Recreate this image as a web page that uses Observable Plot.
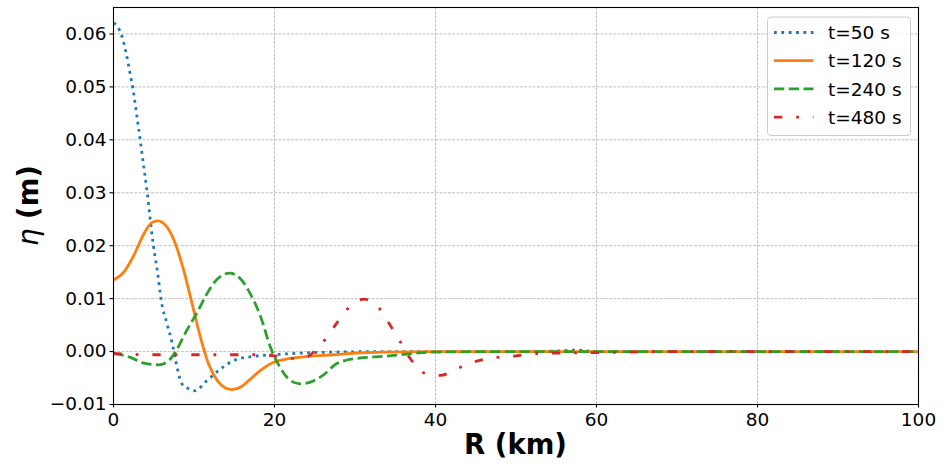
<!DOCTYPE html>
<html>
<head>
<meta charset="utf-8">
<script src="https://cdn.jsdelivr.net/npm/d3@7"></script>
<script src="https://cdn.jsdelivr.net/npm/@observablehq/plot@0.6"></script>
<style>
  html, body { margin: 0; padding: 0; background: white; }
  #chart { position: relative; width: 948px; height: 464px; }
</style>
</head>
<body>
<div id="chart"></div>
<script>
// ---- data ----
const seriesNames = ["t=50 s", "t=120 s", "t=240 s", "t=480 s"];

const R50   = [0, 0.2, 0.75, 1.08, 1.53, 2.06, 2.4, 2.93, 3.56, 4.18, 4.93, 5.5, 5.9, 6.66, 7.3, 7.9, 8.5, 9.2, 10.1, 11.6, 13.3, 14.9, 17.4, 19.9, 23.2, 27.3, 35, 45, 52, 55, 57.5, 60, 70, 100];
const eta50 = [0.0620, 0.0619, 0.0607, 0.0594, 0.0567, 0.0525, 0.0498, 0.0442, 0.0372, 0.0301, 0.0203, 0.0147, 0.0099, 0.0052, 0.0015, -0.0030, -0.0061, -0.0069, -0.0074, -0.0055, -0.0033, -0.0017, -0.0009, -0.0006, -0.0003, -0.0001, 0, 0, 0, 0.0001, 0.0003, 0, 0, 0];

const R120   = [0, 1.28, 2.5, 3.76, 4.8, 5.5, 6.66, 7.7, 8.73, 9.77, 10.8, 11.8, 12.9, 13.9, 14.7, 15.8, 17, 18.3, 19.9, 21.6, 24.1, 27.3, 30, 33.6, 40, 50, 100];
const eta120 = [0.0135, 0.0150, 0.0181, 0.0222, 0.0244, 0.0247, 0.0235, 0.0203, 0.0153, 0.0090, 0.0027, -0.0023, -0.0055, -0.0069, -0.0072, -0.0067, -0.0052, -0.0035, -0.0020, -0.0014, -0.0009, -0.0006, -0.0003, -0.0001, 0, 0, 0];

const R240   = [0, 2.1, 3.76, 5.6, 6.87, 7.9, 9.1, 10.4, 11.6, 12.9, 14.4, 15.8, 17.0, 18.3, 19.5, 20.7, 22, 23.2, 24.9, 26.5, 27.4, 29, 30.7, 33.6, 35.7, 39.8, 50, 100];
const eta240 = [-0.0003, -0.0011, -0.0022, -0.0025, -0.0017, 0.0005, 0.0040, 0.0074, 0.0109, 0.0137, 0.0148, 0.0137, 0.0109, 0.0065, 0.0008, -0.0030, -0.0055, -0.0061, -0.0055, -0.0039, -0.0026, -0.0016, -0.0012, -0.0009, -0.0006, -0.0001, 0, 0];

const R480   = [0, 5, 10, 15, 18, 20, 22.2, 24.3, 25.2, 26.2, 27.6, 29.1, 31.1, 33.0, 34.4, 35.6, 36.9, 38.5, 40.6, 43.0, 45.6, 47.6, 50, 52.2, 55, 60, 70, 100];
const eta480 = [-0.0004, -0.0006, -0.0006, -0.0006, -0.0006, -0.0008, -0.0013, -0.0008, 0.0005, 0.0021, 0.0051, 0.0081, 0.0099, 0.0082, 0.0049, 0.0019, -0.0014, -0.0040, -0.0045, -0.0030, -0.0016, -0.0011, -0.0008, -0.0004, -0.0003, -0.0002, 0, 0];

const xTicks = [0, 20, 40, 60, 80, 100];
const yTicks = [-0.01, 0, 0.01, 0.02, 0.03, 0.04, 0.05, 0.06];
const xLabel = "R (km)";
const yLabelSymbol = "η";
const yLabelUnit = "(m)";

// ---- styles ----
const colors = ["#1f77b4", "#ff7f0e", "#2ca02c", "#d62728"];
const dashes = ["2.78,4.58", null, "10.3,4.45", "8.3,13.9,2.8,13.9"];
const LW = 2.78;

const rows = (Rs, etas) => Rs.map((r, i) => ({R: r, eta: etas[i]}));
const allData = [rows(R50, eta50), rows(R120, eta120), rows(R240, eta240), rows(R480, eta480)];

const fmt = d3.format(".2f");

const svg = Plot.plot({
  width: 948,
  height: 464,
  marginLeft: 113,
  marginRight: 30,
  marginTop: 7,
  marginBottom: 60,
  style: {fontFamily: "'DejaVu Sans', sans-serif", fontSize: "18.5px", background: "white", color: "black", overflow: "visible"},
  x: {domain: [0, 100]},
  y: {domain: [-0.01, 0.065]},
  marks: [
    Plot.gridX(xTicks, {stroke: "#b0b0b0", strokeOpacity: 1, strokeWidth: 0.8, strokeDasharray: "2.96,1.28"}),
    Plot.gridY(yTicks, {stroke: "#b0b0b0", strokeOpacity: 1, strokeWidth: 0.8, strokeDasharray: "2.96,1.28"}),
    ...allData.map((d, i) => Plot.line(d, {
      x: "R", y: "eta",
      stroke: colors[i],
      strokeWidth: LW,
      strokeDasharray: dashes[i] || undefined,
      strokeLinecap: "butt",
      curve: "monotone-x"
    })),
    Plot.frame({stroke: "black", strokeWidth: 1.1}),
    Plot.axisX(xTicks, {tickSize: 3.5, tickPadding: 5, label: null, fontSize: 18.5, strokeWidth: 1.1}),
    Plot.axisY(yTicks, {tickSize: 3.5, tickPadding: 3.5, label: null, tickFormat: fmt, fontSize: 18.5, strokeWidth: 1.1})
  ]
});

document.getElementById("chart").appendChild(svg);

// ---- axis titles ----
const s = d3.select(svg);
s.append("text")
  .attr("x", 515.5).attr("y", 454)
  .attr("text-anchor", "middle")
  .attr("font-family", "'DejaVu Sans', sans-serif")
  .attr("font-size", 27.5)
  .attr("font-weight", "bold")
  .attr("fill", "black")
  .text(xLabel);

const yl = s.append("text")
  .attr("transform", "translate(38,205.5) rotate(-90)")
  .attr("text-anchor", "middle")
  .attr("font-family", "'DejaVu Sans', sans-serif")
  .attr("font-size", 27.5)
  .attr("fill", "black");
yl.append("tspan").attr("font-style", "italic").text(yLabelSymbol);
yl.append("tspan").attr("font-weight", "bold").text(" " + yLabelUnit);

// ---- legend ----
const lg = s.append("g")
  .attr("font-family", "'DejaVu Sans', sans-serif")
  .attr("font-size", 18.5)
  .attr("text-anchor", "start");
lg.append("rect")
  .attr("x", 767.5).attr("y", 17).attr("width", 143).attr("height", 118.5)
  .attr("rx", 3.5).attr("fill", "white").attr("fill-opacity", 0.8)
  .attr("stroke", "#cccccc").attr("stroke-width", 1);
seriesNames.forEach((name, i) => {
  const cy = 32.5 + i * 28.2;
  lg.append("line")
    .attr("x1", 774).attr("x2", 813.5).attr("y1", cy).attr("y2", cy)
    .attr("stroke", colors[i]).attr("stroke-width", LW)
    .attr("stroke-dasharray", dashes[i] || null)
    .attr("stroke-linecap", "butt");
  lg.append("text")
    .attr("x", 828).attr("y", cy).attr("dy", "0.36em")
    .attr("text-anchor", "start")
    .attr("fill", "black")
    .text(name);
});
</script>
</body>
</html>
